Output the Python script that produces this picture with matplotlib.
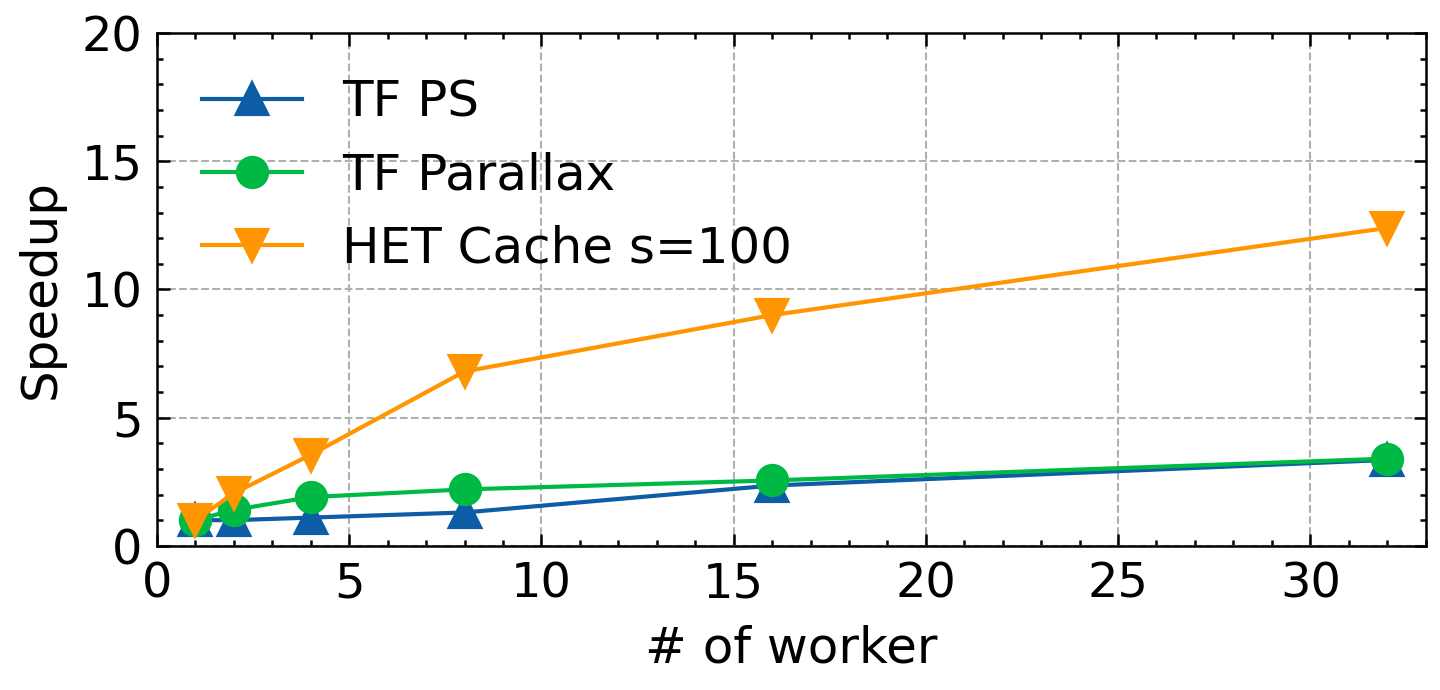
import numpy as np
import matplotlib
matplotlib.use("Agg")
import matplotlib.pyplot as plt
from matplotlib.ticker import AutoMinorLocator

# data
workers = [1, 2, 4, 8, 16, 32]
tf_ps = [1.0, 1.0, 1.1, 1.3, 2.35, 3.35]
tf_parallax = [1.0, 1.4, 1.9, 2.2, 2.55, 3.4]
het_cache = [1.0, 2.05, 3.55, 6.8, 9.0, 12.4]

plt.rcParams['font.family'] = ['DejaVu Sans']
plt.rcParams['xtick.direction'] = 'in'
plt.rcParams['ytick.direction'] = 'in'
plt.rcParams['xtick.top'] = True
plt.rcParams['ytick.right'] = True

fig, ax = plt.subplots(figsize=(4.8, 2.3), dpi=300)
fig.subplots_adjust(left=0.109, right=0.99, top=0.952, bottom=0.209)

ax.plot(workers, tf_ps, marker='^', color='#0C5DA5', lw=1, ms=7, label='TF PS')
ax.plot(workers, tf_parallax, marker='o', color='#00B945', lw=1, ms=7, label='TF Parallax')
ax.plot(workers, het_cache, marker='v', color='#FF9500', lw=1, ms=7, label='HET Cache s=100')

ax.set_xlim(0, 33)
ax.set_ylim(0, 20)
ax.set_xticks(np.arange(0, 31, 5))
ax.set_yticks(np.arange(0, 21, 5))
ax.xaxis.set_minor_locator(AutoMinorLocator(5))
ax.yaxis.set_minor_locator(AutoMinorLocator(5))
ax.tick_params(which='major', length=3, width=0.6, labelsize=11.5)
ax.tick_params(which='minor', length=1.5, width=0.6)
for s in ax.spines.values():
    s.set_linewidth(0.6)
ax.grid(True, which='major', ls='--', color='#b0b0b0', lw=0.5)

ax.set_xlabel('# of worker', fontsize=12)
ax.set_ylabel('Speedup', fontsize=12)
ax.legend(loc='upper left', frameon=False, fontsize=12, handlelength=2.0)

fig.savefig('out.png', dpi=300)
